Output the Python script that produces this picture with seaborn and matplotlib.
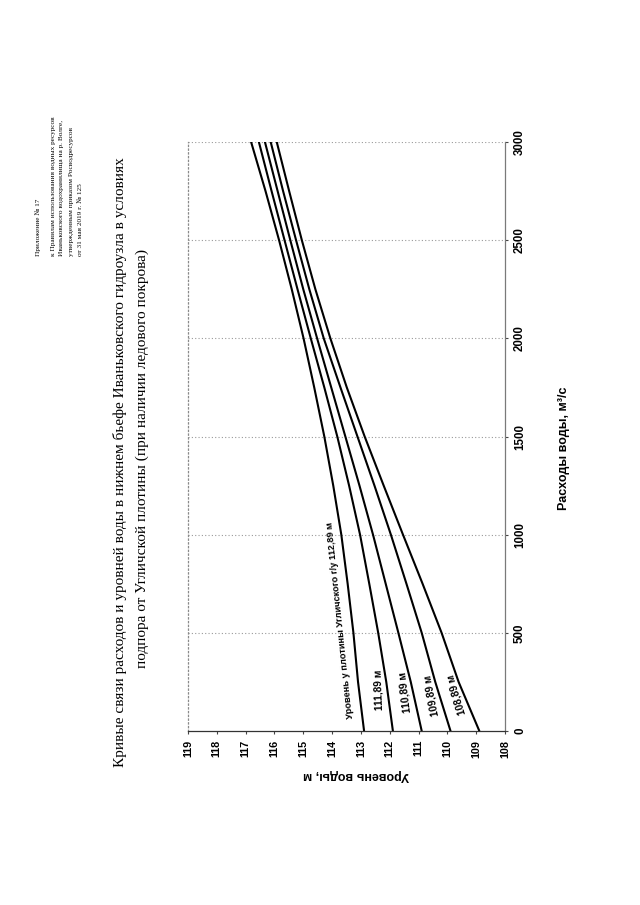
import numpy as np
import pandas as pd
import seaborn as sns
import matplotlib.pyplot as plt

# discharge, m3/s
discharge = [0, 250, 500, 750, 1000, 1250, 1500, 1750, 2000, 2250, 2500, 2750, 3000]

# tailwater level, m, for each level at the Uglich dam
lvl_11289 = [112.89, 113.10, 113.26, 113.46, 113.68, 113.96, 114.27, 114.62, 114.99, 115.40, 115.84, 116.31, 116.81]
lvl_11189 = [111.89, 112.12, 112.40, 112.71, 113.03, 113.41, 113.82, 114.27, 114.74, 115.20, 115.65, 116.10, 116.54]
lvl_11089 = [110.89, 111.27, 111.70, 112.14, 112.58, 113.05, 113.54, 114.03, 114.52, 115.00, 115.45, 115.89, 116.33]
lvl_10989 = [109.89, 110.42, 110.89, 111.42, 111.96, 112.53, 113.12, 113.71, 114.29, 114.79, 115.25, 115.70, 116.13]
lvl_10889 = [108.89, 109.61, 110.20, 110.86, 111.54, 112.21, 112.87, 113.49, 114.06, 114.58, 115.05, 115.49, 115.92]

curve_names = ["112,89", "111,89", "110,89", "109,89", "108,89"]
level_ticks = list(range(108, 120))
q_ticks = [0, 500, 1000, 1500, 2000, 2500, 3000]

header = ["Приложение № 17",
          "к Правилам использования водных ресурсов",
          "Иваньковского водохранилища на р. Волге,",
          "утвержденным приказом Росводресурсов",
          "от 31 мая 2019 г. № 125"]
title1 = "Кривые связи расходов и уровней воды в нижнем бьефе Иваньковского гидроузла в условиях"
title2 = "подпора от Угличской плотины (при наличии ледового покрова)"

df = pd.concat([
    pd.DataFrame({"Q": discharge, "level": lv, "curve": nm})
    for lv, nm in zip([lvl_11289, lvl_11189, lvl_11089, lvl_10989, lvl_10889], curve_names)
])

sns.set_theme(style="white")
plt.rcParams["font.family"] = ["Liberation Sans", "DejaVu Sans"]

W, H = 640, 905
fig = plt.figure(figsize=(6.4, 9.05), dpi=100)
# page is turned 90 deg: level runs right-to-left, discharge bottom-to-top
ax = fig.add_axes([188 / W, 1 - 731 / H, (505 - 188) / W, (731 - 142) / H])

sns.lineplot(data=df, x="level", y="Q", hue="curve", palette=["black"] * 5,
             estimator=None, sort=False, legend=False, linewidth=1.5, ax=ax)

ax.set_xlim(119, 108)
ax.set_ylim(0, 3000)
ax.set_xticks(level_ticks)
ax.set_yticks(q_ticks)
ax.yaxis.tick_right()
ax.yaxis.set_label_position("right")

for q in q_ticks[1:]:
    ax.axhline(q, color="#9a9a9a", lw=0.8, ls=(0, (1, 2)), zorder=0)

ax.spines["left"].set_linestyle((0, (1, 2)))
ax.spines["left"].set_color("#8a8a8a")
ax.spines["top"].set_visible(False)
ax.spines["right"].set_color("#7a7a7a")
ax.spines["bottom"].set_color("#333333")
for s in ax.spines.values():
    s.set_linewidth(0.9)

ax.tick_params(axis="x", bottom=True, direction="out", length=2.5, width=0.8,
               color="#444444", pad=4, labelrotation=90, labelsize=7.8,
               labelcolor="black")
ax.tick_params(axis="y", right=True, left=False, direction="out", length=2.5,
               width=0.8, color="#444444", pad=4, labelrotation=90, labelsize=8.3,
               labelcolor="black")
for t in ax.get_xticklabels() + ax.get_yticklabels():
    t.set_fontweight("bold")
for t in ax.get_yticklabels():
    t.set_va("center")

ax.set_xlabel("Уровень воды, м", rotation=180, fontsize=9, fontweight="bold",
              color="black")
ax.xaxis.set_label_coords((356 - 188) / 317, (731 - 775) / 589)
ax.xaxis.label.set_va("center")
ax.set_ylabel("Расходы воды, м³/с", rotation=90, fontsize=9, fontweight="bold",
              color="black")
ax.yaxis.set_label_coords((564 - 188) / 317, (731 - 448) / 589)
ax.yaxis.label.set_va("center")

# curve labels
lab_kw = dict(ha="center", va="center", rotation_mode="anchor",
              fontweight="bold", fontsize=7.3, color="black")
ax.text(113.72, 562, "Уровень у плотины Угличского г/у 112,89 м", rotation=96,
        **{**lab_kw, "fontsize": 6.7})
ax.text(112.37, 209, "111,89 м", rotation=92, **lab_kw)
ax.text(111.47, 199, "110,89 м", rotation=97, **lab_kw)
ax.text(110.53, 183, "109,89 м", rotation=101, **lab_kw)
ax.text(109.67, 188, "108,89 м", rotation=107, **lab_kw)

# titles and header (rotated page)
serif = ["Liberation Serif", "DejaVu Serif"]
fig.text(120 / W, 1 - 462 / H, title1, rotation=90, ha="center", va="center",
         family=serif, fontsize=11, color="black")
fig.text(142 / W, 1 - 458 / H, title2, rotation=90, ha="center", va="center",
         family=serif, fontsize=11, color="black")
for x, line in zip([38, 53, 62, 71.5, 81], header):
    fig.text(x / W, 1 - 256 / H, line, rotation=90, rotation_mode="anchor",
             ha="left", va="center", family=serif, fontsize=5.2, color="black")

fig.savefig("out.png", dpi=100, facecolor="white")
